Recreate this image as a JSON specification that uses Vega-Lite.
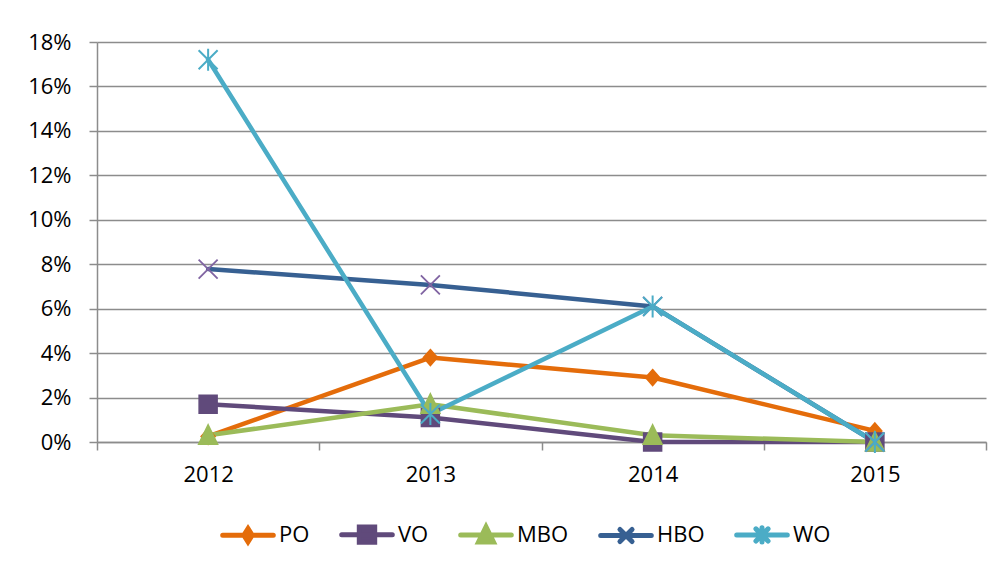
{
  "$schema": "https://vega.github.io/schema/vega-lite/v6.json",
  "autosize": {"type": "none"},
  "width": 889,
  "height": 400,
  "padding": {"left": 97, "top": 42, "right": 20, "bottom": 122},
  "background": "white",
  "config": {
    "view": {"stroke": null},
    "font": "Open Sans",
    "axis": {"labelFont": "Open Sans", "labelFontSize": 22, "labelColor": "#000000", "domainColor": "#8c8c8c", "tickColor": "#8c8c8c", "gridColor": "#8c8c8c", "domainWidth": 1.5, "tickWidth": 1.5, "gridWidth": 1.5, "title": null}
  },
  "data": {
    "values": [
      {"series": "PO", "year": "2012", "value": 0.0025},
      {"series": "PO", "year": "2013", "value": 0.038},
      {"series": "PO", "year": "2014", "value": 0.029},
      {"series": "PO", "year": "2015", "value": 0.005},
      {"series": "VO", "year": "2012", "value": 0.017},
      {"series": "VO", "year": "2013", "value": 0.011},
      {"series": "VO", "year": "2014", "value": 0.0},
      {"series": "VO", "year": "2015", "value": 0.0},
      {"series": "MBO", "year": "2012", "value": 0.003},
      {"series": "MBO", "year": "2013", "value": 0.017},
      {"series": "MBO", "year": "2014", "value": 0.003},
      {"series": "MBO", "year": "2015", "value": 0.0},
      {"series": "HBO", "year": "2012", "value": 0.0778},
      {"series": "HBO", "year": "2013", "value": 0.0707},
      {"series": "HBO", "year": "2014", "value": 0.061},
      {"series": "HBO", "year": "2015", "value": 0.0},
      {"series": "WO", "year": "2012", "value": 0.172},
      {"series": "WO", "year": "2013", "value": 0.0126},
      {"series": "WO", "year": "2014", "value": 0.061},
      {"series": "WO", "year": "2015", "value": 0.0}
    ]
  },
  "encoding": {
    "x": {
      "field": "year", "type": "ordinal",
      "scale": {"type": "band", "paddingInner": 0, "paddingOuter": 0},
      "axis": {"labelAngle": 0, "tickBand": "extent", "tickSize": 8, "labelPadding": 14, "grid": false}
    },
    "y": {
      "field": "value", "type": "quantitative",
      "scale": {"domain": [0, 0.18], "nice": false},
      "axis": {"values": [0, 0.02, 0.04, 0.06, 0.08, 0.1, 0.12, 0.14, 0.16, 0.18], "format": ".0%", "tickSize": 8, "labelPadding": 18, "grid": true}
    }
  },
  "layer": [
    {
      "mark": {"type": "line", "strokeWidth": 4.5, "strokeCap": "round", "strokeJoin": "round"},
      "encoding": {
        "color": {
          "field": "series", "type": "nominal",
          "sort": ["PO", "VO", "MBO", "HBO", "WO"],
          "scale": {"domain": ["PO", "VO", "MBO", "HBO", "WO"], "range": ["#E46C0A", "#604A7B", "#9BBB59", "#376092", "#4BACC6"]},
          "legend": {
            "orient": "none", "legendX": 121, "legendY": 462.5, "direction": "horizontal",
            "title": null, "padding": 0,
            "symbolSize": 3025, "symbolStrokeWidth": 5, "symbolType": "M-0.92,0L0.92,0",
            "labelFont": "Open Sans", "labelFontSize": 22, "labelColor": "#000000", "labelOffset": 1, "columnPadding": 21,
            "encode": {
              "symbols": {
                "update": {
                  "shape": {"signal": "datum.value === 'PO' ? 'M-0.92,0L0.92,0M0,-0.24L0.15,0L0,0.24L-0.15,0Z' : datum.value === 'VO' ? 'M-0.92,0L0.92,0M-0.28,-0.28L0.28,-0.28L0.28,0.28L-0.28,0.28Z' : datum.value === 'MBO' ? 'M-0.92,0L0.92,0M0,-0.3L0.27,0.25L-0.27,0.25Z' : datum.value === 'HBO' ? 'M-0.92,0L0.92,0M-0.22,-0.22L0.22,0.22M-0.22,0.22L0.22,-0.22' : 'M-0.92,0L0.92,0M-0.22,-0.22L0.22,0.22M-0.22,0.22L0.22,-0.22M0,-0.26L0,0.26'"},
                  "fill": {"scale": "color", "field": "value"},
                  "strokeCap": {"value": "round"}
                }
              }
            }
          }
        }
      }
    },
    {
      "transform": [{"filter": "datum.series === 'PO'"}],
      "mark": {"type": "point", "shape": "M0,-1.6L1.4,0L0,1.6L-1.4,0Z", "size": 100, "strokeWidth": 1.5, "filled": true, "fill": "#E46C0A", "stroke": "#E46C0A", "opacity": 1}
    },
    {
      "transform": [{"filter": "datum.series === 'VO'"}],
      "mark": {"type": "point", "shape": "M-1.8,-1.8L1.8,-1.8L1.8,1.8L-1.8,1.8Z", "size": 100, "strokeWidth": 1.5, "filled": true, "fill": "#604A7B", "stroke": "#604A7B", "opacity": 1}
    },
    {
      "transform": [{"filter": "datum.series === 'MBO'"}],
      "mark": {"type": "point", "shape": "M0,-2.1L1.9,1.8L-1.9,1.8Z", "size": 100, "strokeWidth": 1.5, "filled": true, "fill": "#9BBB59", "stroke": "#9BBB59", "opacity": 1}
    },
    {
      "transform": [{"filter": "datum.series === 'HBO'"}],
      "mark": {"type": "point", "shape": "M-1.9,-1.9L1.9,1.9M-1.9,1.9L1.9,-1.9", "size": 100, "strokeWidth": 1.8, "filled": false, "stroke": "#8064A2", "opacity": 1}
    },
    {
      "transform": [{"filter": "datum.series === 'WO'"}],
      "mark": {"type": "point", "shape": "M-1.9,-1.9L1.9,1.9M-1.9,1.9L1.9,-1.9M0,-2.2L0,2.2", "size": 100, "strokeWidth": 2, "filled": false, "stroke": "#4BACC6", "opacity": 1}
    }
  ]
}
